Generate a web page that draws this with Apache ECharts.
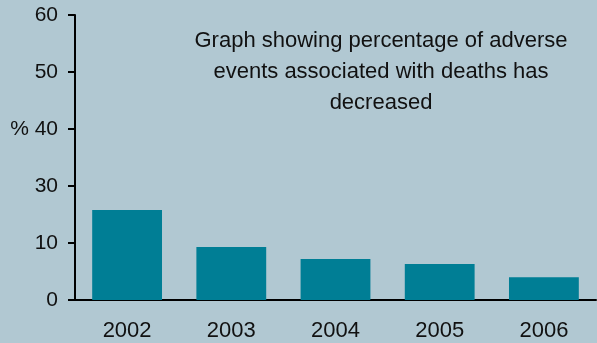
<!DOCTYPE html>
<html lang="en">
<head>
    <meta charset="UTF-8">
    <title>Adverse events associated with deaths</title>
    <script src="https://cdn.jsdelivr.net/npm/echarts@6/dist/echarts.min.js"></script>
    <style>
        html, body { margin: 0; padding: 0; background: #b1c8d2; }
    </style>
</head>
<body>
    <div id="chart" style="width: 597px; height: 343px;"></div>
    <script>
        // years on the x axis
        var years = ['2002', '2003', '2004', '2005', '2006']
        // bar heights, read in the axis steps of the picture (one step = 10)
        var percent = [15.8, 9.3, 7.2, 6.3, 4.0]
        // tick labels exactly as printed, bottom to top
        var tickLabels = ['0', '10', '30', '% 40', '50', '60']
        var titleText = 'Graph showing percentage of adverse\nevents associated with deaths has\ndecreased'

        var font = '"Liberation Sans Narrow", "Liberation Sans", sans-serif'
        var chart = echarts.init(document.getElementById('chart'))

        var options = {
            backgroundColor: '#b1c8d2',
            animation: false,
            title: {
                text: titleText,
                left: 376,
                top: 20,
                textAlign: 'center',
                textStyle: {
                    color: '#111',
                    fontFamily: font,
                    fontWeight: 'normal',
                    fontSize: 22,
                    lineHeight: 31
                }
            },
            grid: {
                left: 75,
                right: 1,
                top: 15,
                bottom: 43
            },
            xAxis: {
                type: 'category',
                data: years,
                boundaryGap: true,
                axisLine: { lineStyle: { color: '#000', width: 2 } },
                axisTick: { length: 7, lineStyle: { color: '#000', width: 2 } },
                axisLabel: {
                    color: '#111',
                    fontFamily: font,
                    fontSize: 22,
                    margin: 20
                }
            },
            yAxis: {
                type: 'value',
                min: 0,
                max: 50,
                interval: 10,
                splitLine: { show: false },
                axisLine: { show: true, lineStyle: { color: '#000', width: 2 } },
                axisTick: { show: true, length: 7, lineStyle: { color: '#000', width: 2 } },
                axisLabel: {
                    color: '#111',
                    fontFamily: font,
                    fontSize: 21,
                    margin: 17,
                    formatter: function (v) {
                        return tickLabels[Math.round(v / 10)]
                    }
                }
            },
            series: [{
                type: 'bar',
                data: percent,
                barWidth: '67%',
                itemStyle: { color: '#007e95' }
            }]
        }
        chart.setOption(options)
    </script>
</body>
</html>
